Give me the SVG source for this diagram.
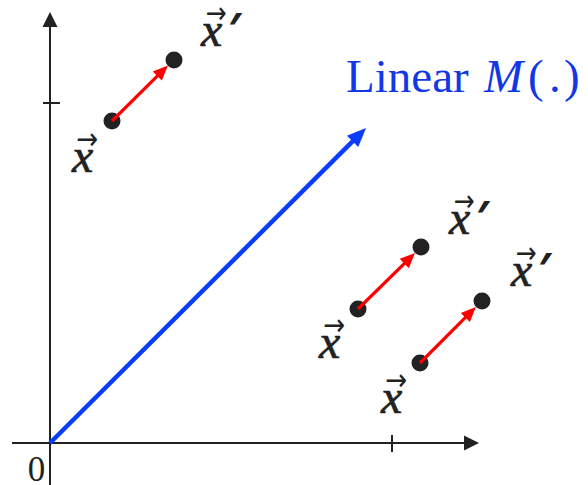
<svg xmlns="http://www.w3.org/2000/svg" width="588" height="485" viewBox="0 0 588 485">
<style>
.ax{stroke:#222;stroke-width:2;fill:none}
.axh{fill:#222}
.dot{fill:#222}
.var{font-family:"Liberation Serif",serif;font-style:italic;font-size:48px;fill:#222;stroke:#222;stroke-width:0.7}
.vec{font-family:"DejaVu Sans",sans-serif;font-size:30px;fill:#222;text-anchor:middle}
.pr{font-family:"Noto Sans","DejaVu Sans",sans-serif;font-style:italic;font-weight:bold;font-size:44px;fill:#222}
.red{stroke:#ff0000;stroke-width:3.2;fill:none}
.blue{stroke:#0a3cff;stroke-width:4.5;fill:none}
.lbl{font-family:"Liberation Serif",serif;font-size:47px;fill:#1238e6}
.num{font-family:"Liberation Serif",serif;font-size:35px;fill:#222;text-anchor:middle}
</style>
<defs>
<marker id="hr" markerUnits="userSpaceOnUse" orient="auto" refX="0" refY="0" overflow="visible">
<path d="M-1,-6.5 L14,0 L-1,6.5 z" fill="#ff0000"/>
</marker>
<marker id="hb" markerUnits="userSpaceOnUse" orient="auto" refX="0" refY="0" overflow="visible">
<path d="M-1,-8 L18,0 L-1,8 z" fill="#0a3cff"/>
</marker>
</defs>
<g id="axes">
<line class="ax" x1="50" y1="485" x2="50" y2="26"/>
<polygon class="axh" points="50,12 42.5,27 57.5,27"/>
<line class="ax" x1="12" y1="443" x2="464" y2="443"/>
<polygon class="axh" points="479,443 464,435.5 464,450.5"/>
<line class="ax" x1="43" y1="103" x2="60" y2="103"/>
<line class="ax" x1="392" y1="435" x2="392" y2="452"/>
<text class="num" x="36.5" y="481">0</text>
</g>
<g id="linear-label">
<text class="lbl" x="346" y="92">Linear</text>
<text class="lbl" x="484" y="92" font-style="italic">M</text>
<text class="lbl" x="528" y="92">(</text>
<text class="lbl" x="549" y="92">.</text>
<text class="lbl" x="564" y="92">)</text>
</g>
<g id="p1">
<circle class="dot" cx="112" cy="121" r="8.5"/>
<text class="var" x="72" y="172">x</text>
<text class="vec" x="87" y="149" textLength="22" lengthAdjust="spacingAndGlyphs">→</text>
</g>
<g id="p1prime">
<circle class="dot" cx="174" cy="60" r="8.5"/>
<text class="var" x="201" y="46">x</text>
<text class="vec" x="216" y="23" textLength="21" lengthAdjust="spacingAndGlyphs">→</text>
<text class="pr" x="227" y="45">′</text>
</g>
<g id="p2">
<circle class="dot" cx="358" cy="309" r="8.5"/>
<text class="var" x="319" y="358">x</text>
<text class="vec" x="334" y="335" textLength="22" lengthAdjust="spacingAndGlyphs">→</text>
</g>
<g id="p2prime">
<circle class="dot" cx="421" cy="247" r="8.5"/>
<text class="var" x="449" y="234">x</text>
<text class="vec" x="464" y="211" textLength="21" lengthAdjust="spacingAndGlyphs">→</text>
<text class="pr" x="475" y="233">′</text>
</g>
<g id="p3">
<circle class="dot" cx="420" cy="363" r="8.5"/>
<text class="var" x="381" y="413">x</text>
<text class="vec" x="396" y="390" textLength="22" lengthAdjust="spacingAndGlyphs">→</text>
</g>
<g id="p3prime">
<circle class="dot" cx="482" cy="301" r="8.5"/>
<text class="var" x="511" y="286">x</text>
<text class="vec" x="526" y="263" textLength="21" lengthAdjust="spacingAndGlyphs">→</text>
<text class="pr" x="537" y="285">′</text>
</g>
<g id="connectors">
<line class="blue" x1="50" y1="443" x2="353.3" y2="140.7" marker-end="url(#hb)"/>
<line class="red" x1="112" y1="121" x2="158" y2="75.3" marker-end="url(#hr)"/>
<line class="red" x1="358" y1="309" x2="405" y2="262.8" marker-end="url(#hr)"/>
<line class="red" x1="420" y1="363" x2="466" y2="316.8" marker-end="url(#hr)"/>
</g>
</svg>
